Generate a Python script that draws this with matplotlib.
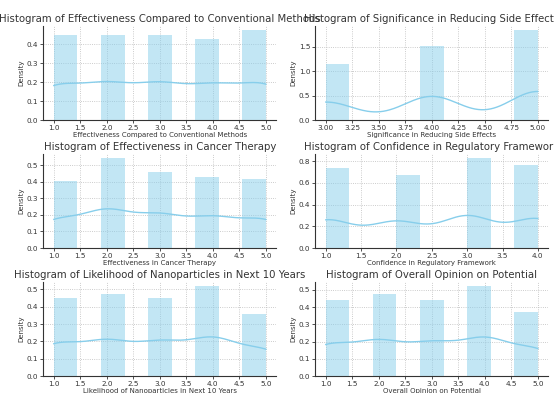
import numpy as np
import matplotlib
matplotlib.use("Agg")
import matplotlib.pyplot as plt
import seaborn as sns

# Response counts per answer value
titles = [
    "Effectiveness Compared to Conventional Methods",
    "Significance in Reducing Side Effects",
    "Effectiveness in Cancer Therapy",
    "Confidence in Regulatory Framework",
    "Likelihood of Nanoparticles in Next 10 Years",
    "Overall Opinion on Potential",
]
values_eff_conv = [1, 2, 3, 4, 5]
counts_eff_conv = [40, 40, 40, 38, 42]
values_side = [3, 4, 5]
counts_side = [51, 67, 81]
values_cancer = [1, 2, 3, 4, 5]
counts_cancer = [36, 48, 41, 38, 37]
values_reg = [1, 2, 3, 4]
counts_reg = [49, 45, 55, 51]
values_likely = [1, 2, 3, 4, 5]
counts_likely = [40, 42, 40, 46, 32]
values_overall = [1, 2, 3, 4, 5]
counts_overall = [39, 42, 39, 46, 33]

series = [
    (values_eff_conv, counts_eff_conv),
    (values_side, counts_side),
    (values_cancer, counts_cancer),
    (values_reg, counts_reg),
    (values_likely, counts_likely),
    (values_overall, counts_overall),
]

plt.rcParams.update({
    "font.family": ["DejaVu Sans"],
    "axes.edgecolor": "#333333",
    "axes.linewidth": 0.8,
    "axes.labelcolor": "#333333",
    "xtick.color": "#333333",
    "ytick.color": "#333333",
    "text.color": "#333333",
})

fig, axes = plt.subplots(3, 2, figsize=(5.54, 3.93), dpi=100)
fig.subplots_adjust(left=0.078, right=0.99, bottom=0.043, top=0.934, wspace=0.166, hspace=0.36)

for ax, title, (vals, cnts) in zip(axes.flat, titles, series):
    data = np.repeat(vals, cnts)
    sns.histplot(data, bins=9, kde=True, stat="density", color="skyblue", ax=ax,
                 edgecolor="none", line_kws={"linewidth": 1})
    ax.set_title(f"Histogram of {title}", fontsize=7.3, pad=3)
    ax.set_xlabel(title, fontsize=5, labelpad=1)
    ax.set_ylabel("Density", fontsize=5, labelpad=2)
    ax.tick_params(labelsize=5.2, length=2, width=0.6, pad=1.5)
    ax.grid(True, linestyle=":", linewidth=0.6, color="#bbbbbb")
    ax.set_axisbelow(True)
    for s in ["top", "right"]:
        ax.spines[s].set_visible(False)

fig.savefig("out.png", dpi=100)
